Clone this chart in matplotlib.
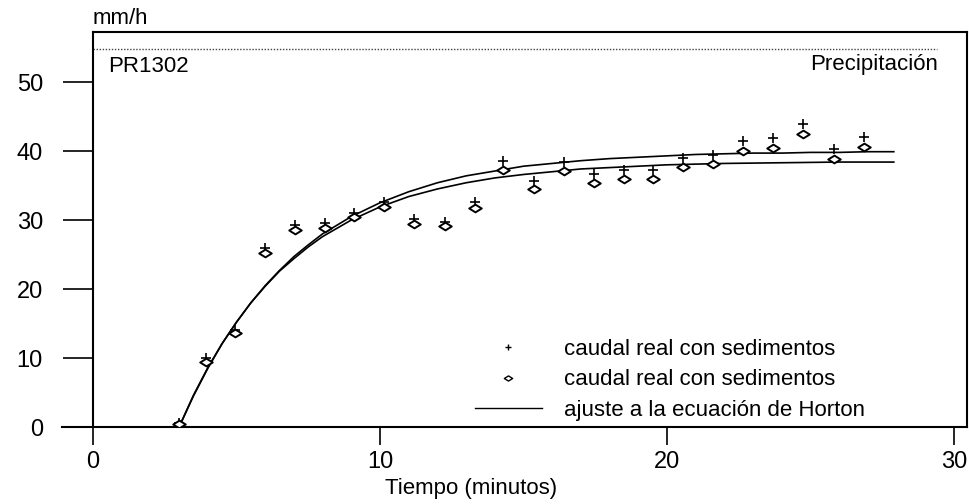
import matplotlib
matplotlib.use("Agg")
import matplotlib.pyplot as plt
import matplotlib.transforms as mtrans
from matplotlib.path import Path
from matplotlib.lines import Line2D

plt.rcParams['font.family'] = ['Liberation Sans', 'DejaVu Sans']

# ---- data ----
t_obs = [3.0, 3.95, 4.95, 6.0, 7.05, 8.1, 9.1, 10.15, 11.2, 12.25, 13.3, 14.3,
         15.35, 16.4, 17.45, 18.5, 19.5, 20.55, 21.6, 22.65, 23.7, 24.75, 25.8, 26.85]
q_plus = [0.6, 10.0, 14.0, 25.9, 29.3, 29.6, 31.0, 32.6, 30.1, 29.7, 32.6, 38.6,
          35.7, 38.4, 36.7, 37.2, 37.2, 39.0, 39.4, 41.4, 41.9, 43.9, 40.3, 42.0]
q_diam = [0.5, 9.4, 13.6, 25.2, 28.6, 28.8, 30.4, 31.9, 29.4, 29.1, 31.7, 37.2,
          34.5, 37.1, 35.4, 35.9, 35.9, 37.7, 38.1, 40.0, 40.4, 42.5, 38.8, 40.6]

t_fit = [3, 3.5, 4, 4.5, 5, 5.5, 6, 6.5, 7, 7.5, 8, 9, 10, 11, 12, 13, 14, 15, 16,
         17, 18, 19, 20, 21, 22, 23, 24, 25, 26, 27, 27.9]
q_fit_upper = [0, 4.5, 8.5, 12.1, 15.2, 18.0, 20.5, 22.7, 24.7, 26.4, 28.0, 30.5,
               32.5, 34.1, 35.4, 36.4, 37.1, 37.8, 38.2, 38.6, 38.9, 39.1, 39.3,
               39.5, 39.6, 39.7, 39.7, 39.8, 39.8, 39.9, 39.9]
q_fit_lower = [0, 4.6, 8.6, 12.1, 15.2, 18.0, 20.4, 22.6, 24.4, 26.1, 27.6, 30.0,
               31.9, 33.4, 34.5, 35.4, 36.1, 36.6, 37.0, 37.4, 37.6, 37.8, 38.0,
               38.1, 38.2, 38.25, 38.3, 38.35, 38.4, 38.4, 38.4]

precip_rate = 54.8
precip_t = [0, 29.4]

x_ticks = [0, 10, 20, 30]
y_ticks = [0, 10, 20, 30, 40, 50]
legend_labels = ["caudal real con sedimentos", "caudal real con sedimentos",
                 "ajuste a la ecuación de Horton"]

# ---- figure ----
W, H = 969, 504
fig = plt.figure(figsize=(W / 100, H / 100), dpi=100)
ax = fig.add_axes([62 / W, (H - 427) / H, (967 - 62) / W, (427 - 32) / H])

ax.set_xlim(-1.08, 30.45)
ax.set_ylim(0, 57.25)

diamond = Path([(-1, 0), (0, 0.62), (1, 0), (0, -0.62), (-1, 0)],
               [Path.MOVETO, Path.LINETO, Path.LINETO, Path.LINETO, Path.CLOSEPOLY])

lw = 1.2
ax.plot(t_fit, q_fit_upper, color='black', lw=lw, zorder=2)
ax.plot(t_fit, q_fit_lower, color='black', lw=lw, zorder=2)
ax.plot(t_obs, q_plus, linestyle='none', marker='+', markersize=7,
        markeredgewidth=1.2, color='black', zorder=3)
ax.plot(t_obs, q_diam, linestyle='none', marker=diamond, markersize=9,
        markeredgewidth=1.4, markerfacecolor='white', markeredgecolor='black',
        zorder=3)

ax.hlines(precip_rate, precip_t[0], precip_t[1], colors='#444444',
          linestyles=(0, (1, 1.2)), lw=1.0)

# spines
for s in ax.spines.values():
    s.set_linewidth(1.5)
ax.spines['left'].set_position(('data', 0))
ax.spines['top'].set_bounds(0, 30.45)

ax.set_xticks(x_ticks)
ax.set_yticks(y_ticks)
ax.tick_params(axis='y', direction='out', length=21.6, width=1.2, pad=14.5,
               labelsize=17)
ax.tick_params(axis='x', direction='out', length=13, width=1.2, pad=4,
               labelsize=17)

ax.set_xlabel("Tiempo (minutos)", fontsize=16)
ax.xaxis.set_label_coords((471 - 62) / (967 - 62), -0.128)

blend = mtrans.blended_transform_factory(ax.transData, ax.transAxes)
ax.text(0, 1.033, "mm/h", transform=blend, ha='left', va='center', fontsize=16)
ax.text(0.52, 0.913, "PR1302", transform=blend, ha='left', va='center', fontsize=16)
ax.text(29.45, 0.918, "Precipitación", transform=blend, ha='right', va='center',
        fontsize=16)

handles = [
    Line2D([], [], linestyle='none', marker='+', markersize=5, markeredgewidth=1.0,
           color='black'),
    Line2D([], [], linestyle='none', marker=diamond, markersize=6,
           markeredgewidth=1.0, markerfacecolor='white', markeredgecolor='black'),
    Line2D([], [], color='black', lw=1.0),
]
fig.legend(handles, legend_labels, loc='upper left',
           bbox_to_anchor=(475 / W, 1 - 339 / H), frameon=False, fontsize=16,
           handlelength=3.0, handletextpad=1.0, labelspacing=0.42,
           borderpad=0, borderaxespad=0)

fig.savefig("out.png", dpi=100)
